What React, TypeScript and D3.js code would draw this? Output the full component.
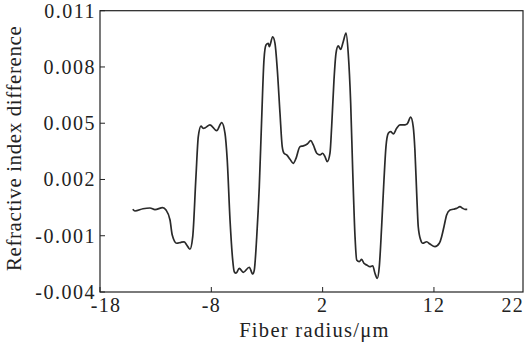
import React, { useEffect } from 'react';
import * as d3 from 'd3';

// fiber radius (um)
const radius = [
  -15.06, -14.86, -14.14, -13.51, -13.06, -12.37, -12.07, -11.71, -11.51, -11.11,
  -10.72, -10.45, -10.21, -9.92, -9.67, -9.38, -9.17, -8.93, -8.72, -8.57,
  -8.12, -7.52, -7.07, -6.77, -6.57, -6.32, -6.08, -5.94, -5.78, -5.49,
  -5.13, -4.59, -4.28, -4.14, -3.92, -3.69, -3.48, -3.27, -3.09, -2.88,
  -2.79, -2.49, -2.28, -2.07, -1.83, -1.63, -1.47, -1.23, -0.93, -0.64,
  -0.39, -0.04, 0.26, 0.62, 0.93, 1.16, 1.47, 1.76, 2.0, 2.21,
  2.42, 2.66, 2.81, 3.02, 3.2, 3.4, 3.62, 3.85, 4.1, 4.3,
  4.52, 4.7, 4.91, 5.06, 5.29, 5.51, 5.71, 5.96, 6.25, 6.5,
  6.7, 6.91, 7.09, 7.3, 7.51, 7.69, 7.9, 8.11, 8.35, 8.65,
  8.95, 9.4, 9.6, 9.91, 10.14, 10.29, 10.45, 10.59, 10.81, 10.99,
  11.35, 11.64, 12.09, 12.48, 12.69, 12.9, 13.14, 13.44, 13.73, 14.04,
  14.34, 14.58, 14.79, 14.99,
];

// refractive index difference at each radius
const indexDiff = [
  0.00041, 0.00032, 0.00044, 0.00048, 0.00039, 0.0005, 0.00037, -0.00016, -0.00096, -0.0014,
  -0.00135, -0.00133, -0.00149, -0.00172, -0.00105, 0.00215, 0.00428, 0.00485, 0.00473, 0.00475,
  0.00491, 0.0046, 0.00503, 0.00446, 0.00304, -0.00016, -0.00229, -0.00292, -0.003, -0.00274,
  -0.00295, -0.00268, -0.00304, -0.00283, -0.00105, 0.00162, 0.00517, 0.00837, 0.00917, 0.00926,
  0.00908, 0.00961, 0.00926, 0.00784, 0.00553, 0.00375, 0.0034, 0.00331, 0.00308, 0.00286,
  0.00313, 0.00375, 0.00379, 0.00389, 0.00407, 0.00384, 0.0034, 0.00331, 0.0034, 0.00322,
  0.00295, 0.0034, 0.00481, 0.00731, 0.00873, 0.00912, 0.00894, 0.00935, 0.0098, 0.00873,
  0.00606, 0.00251, -0.00105, -0.00229, -0.00238, -0.00226, -0.00247, -0.00256, -0.00265, -0.0026,
  -0.003, -0.00327, -0.00265, -0.00052, 0.00197, 0.00375, 0.00446, 0.00455, 0.00443, 0.00473,
  0.00491, 0.00491, 0.00496, 0.00532, 0.00481, 0.00357, 0.00126, -0.00052, -0.00123, -0.0014,
  -0.00132, -0.00144, -0.00158, -0.0014, -0.00105, -0.00052, 0.00011, 0.00037, 0.00041, 0.00046,
  0.00055, 0.00046, 0.00041, 0.00041,
];

const xTicks = [-18, -8, 2, 12];
const xEndLabel = '22';
const yTicks = [-0.004, -0.001, 0.002, 0.005, 0.008, 0.011];

const W = 528;
const H = 343;
const margin = { top: 10.7, right: 5, bottom: 51, left: 100 };
const font = '"Liberation Serif", "Times New Roman", serif';

export default function App() {
  useEffect(() => {
    document.body.style.margin = '0';
  }, []);

  const x = d3.scaleLinear().domain([-18, 20]).range([margin.left, W - margin.right]);
  const y = d3.scaleLinear().domain([-0.004, 0.011]).range([H - margin.bottom, margin.top]);

  const points = radius.map((r, i) => [r, indexDiff[i]] as [number, number]);
  const line = d3.line<[number, number]>()
    .x(d => x(d[0]))
    .y(d => y(d[1]))
    .curve(d3.curveMonotoneX);

  const x0 = x.range()[0];
  const x1 = x.range()[1];
  const y0 = y.range()[0];
  const y1 = y.range()[1];

  return (
    <svg width={W} height={H} style={{ display: 'block', background: '#fff' }}>
      {/* frame */}
      <rect x={x0} y={y1} width={x1 - x0} height={y0 - y1} fill="none" stroke="#222" strokeWidth={1.2} />

      {/* y ticks */}
      {yTicks.map(t => (
        <g key={t}>
          <line x1={x0} x2={x0 + 5} y1={y(t)} y2={y(t)} stroke="#222" strokeWidth={1} />
          <text
            x={x0 - 4}
            y={y(t)}
            dy="0.35em"
            textAnchor="end"
            fontFamily={font}
            fontSize={20}
            letterSpacing={1.5}
            fill="#222"
          >
            {d3.format('.3f')(t).replace('−', '-')}
          </text>
        </g>
      ))}

      {/* x ticks */}
      {xTicks.map(t => (
        <g key={t}>
          <line x1={x(t)} x2={x(t)} y1={y0} y2={y0 - 5} stroke="#222" strokeWidth={1} />
          <text
            x={x(t) + (t === -18 ? 6 : 0)}
            y={y0 + 20}
            textAnchor="middle"
            fontFamily={font}
            fontSize={20}
            letterSpacing={1.2}
            fill="#222"
          >
            {String(t)}
          </text>
        </g>
      ))}
      <text x={x1 + 1} y={y0 + 20} textAnchor="end" fontFamily={font} fontSize={20} letterSpacing={1.2} fill="#222">
        {xEndLabel}
      </text>

      {/* trace */}
      <path d={line(points) || ''} fill="none" stroke="#2a2a2a" strokeWidth={1.7} strokeLinejoin="round" />

      {/* axis titles */}
      <text
        x={(x0 + x1) / 2 + 3}
        y={H - 6}
        textAnchor="middle"
        fontFamily={font}
        fontSize={20.5}
        letterSpacing={1.3}
        fill="#222"
      >
        Fiber radius/μm
      </text>
      <text
        transform={`translate(21,${(y0 + y1) / 2 - 3}) rotate(-90)`}
        textAnchor="middle"
        fontFamily={font}
        fontSize={21}
        letterSpacing={0.6}
        fill="#222"
      >
        Refractive index difference
      </text>
    </svg>
  );
}
